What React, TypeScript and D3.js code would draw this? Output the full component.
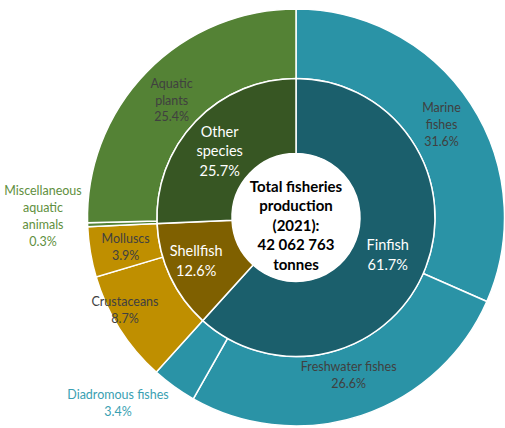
import React from "react";
import * as d3 from "d3";

const groups = ["Finfish", "Shellfish", "Other species"];
const groupValues = [61.7, 12.6, 25.7];
const groupColors = ["#1b5f6c", "#7f6000", "#375623"];

const subNames = [
  "Marine fishes",
  "Freshwater fishes",
  "Diadromous fishes",
  "Crustaceans",
  "Molluscs",
  "Miscellaneous aquatic animals",
  "Aquatic plants",
];
const subValues = [31.6, 26.6, 3.5, 8.7, 3.9, 0.3, 25.4];
const subLabelValues = ["31.6%", "26.6%", "3.4%", "8.7%", "3.9%", "0.3%", "25.4%"];
const subGroup = [0, 0, 0, 1, 1, 2, 2];
const subColors = ["#2a93a6", "#bf8f00", "#548235"];

const centerLines = ["Total fisheries", "production", "(2021):", "42 062 763", "tonnes"];

const W = 505;
const H = 428;
const cx = 296;
const cy = 217.5;
const R0 = 64;
const R1 = 139;
const R2 = 208.5;
const FONT = "Lato, 'Open Sans', sans-serif";

// label line splits and placement tweaks
const subLabelLines: string[][] = [
  ["Marine", "fishes"],
  ["Freshwater fishes"],
  ["Diadromous fishes"],
  ["Crustaceans"],
  ["Molluscs"],
  ["Miscellaneous", "aquatic", "animals"],
  ["Aquatic", "plants"],
];
const subLabelOutside = [false, false, true, false, false, true, false];
const subLabelOffset: [number, number][] = [
  [0, 2], [-2, -7], [0, 0], [-24, 0], [1, 1], [0, 0], [0, 4],
];
const outsidePos: Record<number, [number, number]> = { 2: [118, 403], 5: [43, 216] };
const groupLabelLines = [["Finfish"], ["Shellfish"], ["Other", "species"]];
const groupOffset: [number, number][] = [[-3, 1], [-8, 0], [-3, 4]];

export default function App() {
  const pieG = d3.pie<number>().sort(null).value((d) => d).startAngle(0).endAngle(2 * Math.PI);
  const gArcs = pieG(groupValues);
  const sArcs = pieG(subValues);
  const innerArc = d3.arc<d3.PieArcDatum<number>>().innerRadius(R0).outerRadius(R1);
  const outerArc = d3.arc<d3.PieArcDatum<number>>().innerRadius(R1).outerRadius(R2);

  return (
    <svg
      width={W}
      height={H}
      style={{ position: "absolute", left: 0, top: 0, fontFamily: FONT }}
    >
      <rect width={W} height={H} fill="#ffffff" />
      <g transform={`translate(${cx},${cy})`}>
        {sArcs.map((a, i) => (
          <path
            key={"s" + i}
            d={outerArc(a) || ""}
            fill={subColors[subGroup[i]]}
            stroke="#ffffff"
            strokeWidth={1.5}
          />
        ))}
        {gArcs.map((a, i) => (
          <path
            key={"g" + i}
            d={innerArc(a) || ""}
            fill={groupColors[i]}
            stroke="#ffffff"
            strokeWidth={1.5}
          />
        ))}
        <circle r={R0} fill="#ffffff" />
      </g>
      {sArcs.map((a, i) => {
        let x: number, y: number;
        if (subLabelOutside[i]) {
          [x, y] = outsidePos[i];
        } else {
          const c = outerArc.centroid(a);
          x = cx + c[0] + subLabelOffset[i][0];
          y = cy + c[1] + subLabelOffset[i][1];
        }
        const lines = [...subLabelLines[i], subLabelValues[i]];
        const lh = 16.8;
        const y0 = y - ((lines.length - 1) * lh) / 2;
        const color = subLabelOutside[i]
          ? subGroup[i] === 0
            ? "#3a9fb2"
            : "#5f8f40"
          : "#404040";
        return (
          <text
            key={"sl" + i}
            textAnchor="middle"
            fontSize={12.5}
            fill={color}
          >
            {lines.map((l, j) => (
              <tspan key={j} x={x} y={y0 + j * lh} dy="0.35em">
                {l}
              </tspan>
            ))}
          </text>
        );
      })}
      {gArcs.map((a, i) => {
        const c = innerArc.centroid(a);
        const x = cx + c[0] + groupOffset[i][0];
        const y = cy + c[1] + groupOffset[i][1];
        const lines = [...groupLabelLines[i], groupValues[i].toFixed(1) + "%"];
        const lh = 19.5;
        const y0 = y - ((lines.length - 1) * lh) / 2;
        return (
          <text key={"gl" + i} textAnchor="middle" fontSize={14.5} fill="#ffffff">
            {lines.map((l, j) => (
              <tspan key={j} x={x} y={y0 + j * lh} dy="0.35em">
                {l}
              </tspan>
            ))}
          </text>
        );
      })}
      <text textAnchor="middle" fontSize={15} fontWeight="bold" fill="#000000">
        {centerLines.map((l, j) => (
          <tspan key={j} x={cx} y={cy + 8 + (j - 2) * 19.5} dy="0.35em">
            {l}
          </tspan>
        ))}
      </text>
    </svg>
  );
}
